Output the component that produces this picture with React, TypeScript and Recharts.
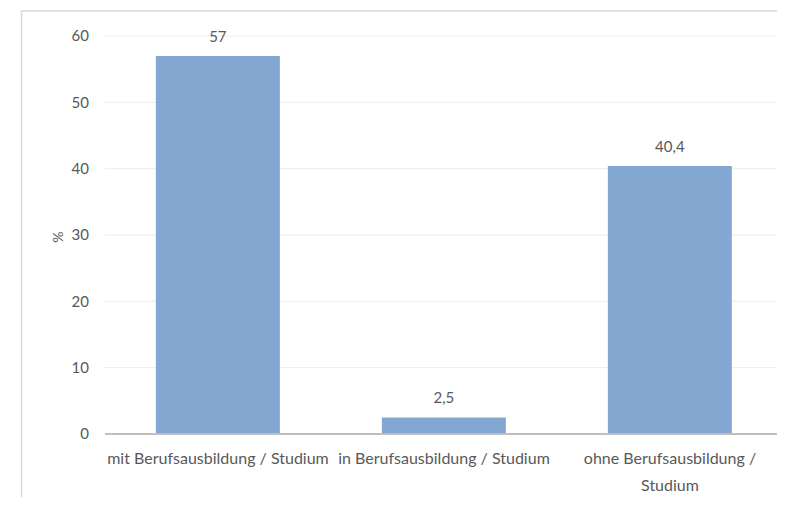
import React from "react";
import { BarChart, Bar, XAxis, YAxis, CartesianGrid, LabelList, Customized } from "recharts";

const categories = [
  "mit Berufsausbildung / Studium",
  "in Berufsausbildung / Studium",
  "ohne Berufsausbildung /\nStudium",
];
const values = [57, 2.5, 40.4];
const yTicks = [0, 10, 20, 30, 40, 50, 60];

const data = categories.map((c, i) => ({ name: c, value: values[i] }));

const FONT = "Lato, 'Noto Sans', sans-serif";
const TEXT = "#595959";

const XTick = (props: any) => {
  const { x, y, payload } = props;
  const lines = String(payload.value).split("\n");
  return (
    <text x={x} y={y} textAnchor="middle" fill={TEXT} fontFamily={FONT} fontSize={16}>
      {lines.map((l, i) => (
        <tspan key={i} x={x} dy={i === 0 ? 22 : 27}>
          {l}
        </tspan>
      ))}
    </text>
  );
};

const Frame = () => (
  <path d="M21.5,505 L21.5,11 L785,11" fill="none" stroke="#d9d9d9" strokeWidth={1.5} />
);

const fmt = (v: any) => String(v).replace(".", ",");

export default function App() {
  return (
    <div style={{ margin: -8, width: 785, height: 505, background: "#fff" }}>
      <BarChart
        width={785}
        height={505}
        data={data}
        margin={{ top: 36, right: 2, bottom: 0, left: 40 }}
        barCategoryGap="22.5%"
      >
        <Customized component={Frame} />
        <CartesianGrid vertical={false} stroke="#ececec" strokeWidth={1} />
        <XAxis
          dataKey="name"
          height={71}
          tickLine={false}
          axisLine={{ stroke: "#bfbfbf", strokeWidth: 2 }}
          tick={<XTick />}
          interval={0}
        />
        <YAxis
          width={65}
          domain={[0, 60]}
          ticks={yTicks}
          axisLine={false}
          tickLine={false}
          tickMargin={10}
          tick={{ fill: TEXT, fontFamily: FONT, fontSize: 15 }}
          label={{
            content: () => (
              <text
                x={57}
                y={237}
                transform="rotate(-90 57 237)"
                textAnchor="middle"
                dominantBaseline="central"
                fill={TEXT}
                fontFamily={FONT}
                fontSize={14}
              >
                %
              </text>
            ),
          }}
        />
        <Bar dataKey="value" fill="#84a7d1" isAnimationActive={false}>
          <LabelList
            dataKey="value"
            position="top"
            offset={14}
            formatter={fmt}
            fill={TEXT}
            fontFamily={FONT}
            fontSize={15}
          />
        </Bar>
      </BarChart>
    </div>
  );
}
